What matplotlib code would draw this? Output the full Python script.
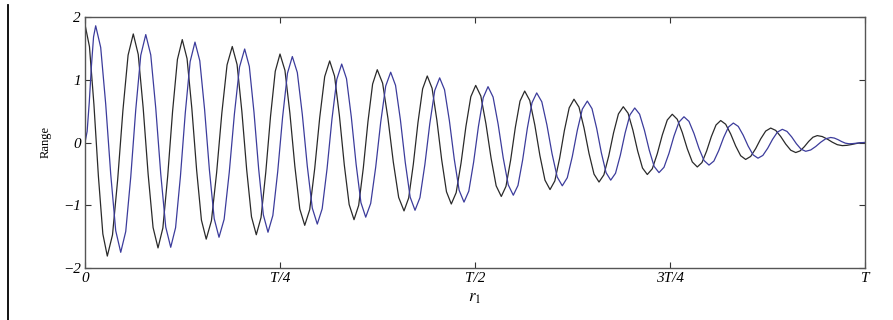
import numpy as np
import matplotlib
matplotlib.use('Agg')
import matplotlib.pyplot as plt

# --- extremes (position as fraction of T, value) ---
black_t = [0.0, 0.0286, 0.0619, 0.0936, 0.1247, 0.1554, 0.1888, 0.2196, 0.25,
           0.2817, 0.3137, 0.3449, 0.3747, 0.4090, 0.4388, 0.4696, 0.5009,
           0.5337, 0.5637, 0.5962, 0.6269, 0.6590, 0.6901, 0.7209, 0.7529,
           0.7850, 0.8150, 0.8470, 0.8791, 0.9112, 0.9388, 0.9709, 1.0]
black_y = [1.88, -1.81, 1.73, -1.68, 1.64, -1.54, 1.53, -1.47, 1.41, -1.32,
           1.30, -1.23, 1.16, -1.09, 1.06, -0.98, 0.91, -0.86, 0.82, -0.75,
           0.69, -0.63, 0.57, -0.51, 0.45, -0.39, 0.35, -0.27, 0.23, -0.16,
           0.11, -0.05, 0.0]

blue_t = [0.0, 0.0137, 0.0458, 0.0779, 0.1099, 0.1410, 0.1718, 0.2047, 0.2346,
          0.2658, 0.2978, 0.3291, 0.3599, 0.3919, 0.4231, 0.4547, 0.4859,
          0.5167, 0.5491, 0.5791, 0.6119, 0.6440, 0.6740, 0.7048, 0.7359,
          0.7679, 0.8000, 0.8312, 0.8628, 0.8940, 0.9240, 0.9560, 0.9795, 1.0]
blue_y = [0.0, 1.86, -1.75, 1.72, -1.67, 1.60, -1.51, 1.49, -1.43, 1.37,
          -1.30, 1.25, -1.19, 1.12, -1.08, 1.03, -0.95, 0.89, -0.84, 0.79,
          -0.69, 0.66, -0.60, 0.55, -0.48, 0.41, -0.36, 0.31, -0.25, 0.21,
          -0.14, 0.08, -0.02, 0.0]

xtick_pos = [0, 0.25, 0.5, 0.75, 1.0]
xtick_lab = ['0', 'T/4', 'T/2', '3T/4', 'T']
ytick_pos = [-2, -1, 0, 1, 2]
ytick_lab = ['\u22122', '\u22121', '0', '1', '2']


def swing(t, y, n=5):
    # half-cosine swing between neighbouring extremes, coarse like the original
    xs, ys = [t[0]], [y[0]]
    for i in range(len(t) - 1):
        s = np.linspace(0, 1, n + 1)[1:]
        xs.extend(t[i] + (t[i + 1] - t[i]) * s)
        ys.extend(y[i] + (y[i + 1] - y[i]) * (1 - np.cos(np.pi * s)) / 2)
    return np.array(xs), np.array(ys)


plt.rcParams['mathtext.fontset'] = 'stix'
fig = plt.figure(figsize=(8.93, 3.2), dpi=100)
ax = fig.add_axes([85 / 893, 1 - 268 / 320, 780 / 893, 251 / 320])

bx, by = swing(black_t, black_y)
ux, uy = swing(blue_t, blue_y)
ax.plot(bx, by, color='#2a2a2a', lw=0.9)
ax.plot(ux, uy, color='#3c3c9c', lw=0.9)

ax.set_xlim(0, 1)
ax.set_ylim(-2, 2)
tfont = dict(family='Liberation Serif', style='italic', size=11)
ax.set_xticks(xtick_pos)
ax.set_xticklabels(xtick_lab, **tfont)
ax.set_yticks(ytick_pos)
ax.set_yticklabels(ytick_lab, **tfont)
ax.tick_params(direction='in', length=4, width=0.8, color='#333333',
               top=True, right=True, pad=3)
for sp in ax.spines.values():
    sp.set_color('#555555')
    sp.set_linewidth(1.0)

ax.set_ylabel('Range', family='Liberation Serif', size=9, labelpad=8)
ax.set_xlabel(r'$r_1$', size=12, labelpad=2)

# thin vertical rule at the left edge of the page
fig.add_artist(plt.Line2D([8.3 / 893, 8.3 / 893], [0, 1 - 5 / 320],
                          transform=fig.transFigure, color='black', lw=1.3))

fig.savefig('out.png', dpi=100)
